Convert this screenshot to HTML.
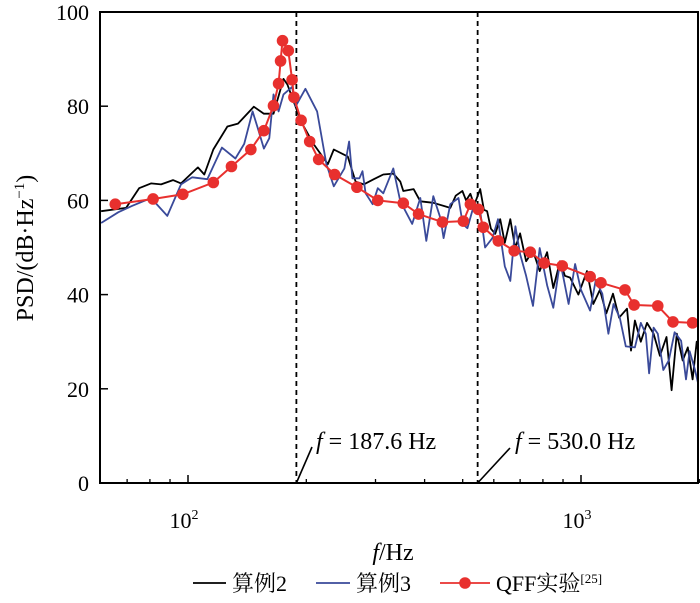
<!DOCTYPE html>
<html><head><meta charset="utf-8"><style>
html,body{margin:0;padding:0;background:#fff;width:700px;height:603px;overflow:hidden}
svg{display:block;font-family:"Liberation Serif","Noto Serif CJK SC",serif}
</style></head><body>
<svg id="chart" width="700" height="603" viewBox="0 0 700 603"></svg>
<script>
const yTicks=[0,20,40,60,80,100];
const xMajor=[100,1000];
const xMinor=[70,80,90,200,300,400,500,600,700,800,900,2000];
const markerFreqs=[187.6,530.0];
const case2F=[60.1,69.6,75.1,80.5,85.4,91.6,96,106,110,116,126,134,147,156,165,175,179,194,209,227,235,255,267,280,297,314,333,347,353,375,390,421,465,480,499,510,523,535,554,566,577,590,605,623,640,661,680,700,725,755,785,820,850,885,910,938,985,1036,1075,1117,1160,1206,1250,1309,1340,1371,1420,1472,1530,1588,1650,1700,1753,1815,1870,1923,1970,2005];
const case2V=[57.7,58.4,62.6,63.6,63.4,64.3,63.6,67,65.5,70.8,75.7,76.3,79.9,78.4,78.4,85.8,84.6,76.7,71.9,67.7,70.8,69.3,64,63.4,64.5,65.5,65.7,64,62,62.4,59.8,59.5,58.4,61,62,60,61.4,59,62.4,58,57.7,54,52.9,56,51,56,49.9,53,47.1,49.3,45,49,41.4,47.1,44,43.6,40,45,38,41,36,40.2,35.1,37,28.1,34.5,30,34,31.7,27,31,19.7,31.7,26,28.8,22,30,26];
const case3F=[60.1,66.5,71.9,80.5,88.6,96,102.5,112,122,132,139,146,151,156,161,165,170,175,184,188,199,213,225,235,250,257,262,273,278,283,295,304,314,333,347,372,390,404,421,439,447,465,488,500,514,530,554,570,595,615,640,661,681,700,725,755,785,820,850,885,902,930,966,1000,1055,1090,1133,1174,1210,1255,1300,1371,1420,1462,1490,1530,1568,1620,1673,1730,1798,1850,1889,1950,2005];
const case3V=[55.2,57.5,58.8,60.5,56.7,63.4,64.9,64.5,71.2,68.9,72,78.9,75,71,73.2,82.5,78.9,82.5,84.1,80,83.7,78.9,67.7,63,66.8,72.5,64.7,64.7,66.2,61.5,59.2,62.6,61.5,66.8,59.8,55,60.5,51.4,60.9,56.2,52,59.2,60.5,55,54.1,58,57.7,50,52,56,46,42.9,54.5,48.6,44,37.6,49.9,42,37.2,47,43.6,38,46.5,41,36.6,43,40.2,31.7,38,35.1,29,28.8,34,31.7,23.3,33,31.7,24,26,32,30.2,22,28,24,19.7];
const qffF=[65.3,81.5,97,116,129,144.5,156,165,170,172,174,180,184,186,194,204,215,236,269,304,353,386,444,502,523,548,564,616,676,743,806,896,1055,1124,1294,1365,1568,1714,1923];
const qffV=[59.2,60.3,61.3,63.8,67.2,70.8,74.8,80.1,84.8,89.6,93.9,91.8,85.6,81.9,77,72.5,68.7,65.5,62.8,60,59.4,57.1,55.4,55.6,59.2,58.1,54.3,51.4,49.3,49,46.7,46.1,43.8,42.5,41,37.8,37.6,34.2,34];

const NS='http://www.w3.org/2000/svg';
const svg=document.getElementById('chart');
const L=100,R=698,T=12,B=483;
const X=f=>188+(Math.log10(f)-2)*393;
const Y=v=>B-v*(B-T)/100;
function mk(tag,attrs,parent){const e=document.createElementNS(NS,tag);for(const k in attrs)e.setAttribute(k,attrs[k]);(parent||svg).appendChild(e);return e;}
const clip=mk('clipPath',{id:'pc'});mk('rect',{x:L,y:T,width:R-L,height:B-T},clip);

markerFreqs.forEach((f,i)=>{const l=mk('line',{x1:X(f)+(i?5:1),x2:X(f)+(i?5:1),y1:T,y2:B,stroke:'#000','stroke-width':1.8,'stroke-dasharray':'5,4'});

});

function path(F,V,color,w,name){let d='';F.forEach((f,i)=>{d+=(i?'L':'M')+X(f).toFixed(1)+','+Y(V[i]).toFixed(1);});
const p=mk('path',{d:d,fill:'none',stroke:color,'stroke-width':w,'stroke-linejoin':'round','clip-path':'url(#pc)'});

return p;}
path(case2F,case2V,'#000',1.8,'series-case2-line');
path(case3F,case3V,'#3a4a9a',1.8,'series-case3-line');
path(qffF,qffV,'#e8302e',2,'series-qff-line');
qffF.forEach((f,i)=>{const c=mk('circle',{cx:X(f),cy:Y(qffV[i]),r:5.8,fill:'#e8302e'});

});

const box=mk('rect',{x:L,y:T,width:R-L,height:B-T,fill:'none',stroke:'#000','stroke-width':2});



yTicks.forEach(v=>{mk('line',{x1:L,x2:L+8,y1:Y(v),y2:Y(v),stroke:'#000','stroke-width':1.5});
const t=mk('text',{x:89,y:Y(v)+8,'text-anchor':'end','font-size':22});t.textContent=v;

});
xMajor.forEach(f=>{mk('line',{x1:X(f),x2:X(f),y1:B,y2:B-8,stroke:'#000','stroke-width':1.5});
const t=mk('text',{x:X(f)-4,y:528,'text-anchor':'middle','font-size':22});
t.innerHTML='10<tspan dy="-9" font-size="14">'+Math.round(Math.log10(f))+'</tspan>';

});
xMinor.forEach(f=>{mk('line',{x1:X(f),x2:X(f),y1:B,y2:B-4,stroke:'#000','stroke-width':1.3});});

mk('line',{x1:X(187.6)+1,y1:B,x2:312,y2:447,stroke:'#000','stroke-width':1.6});
mk('line',{x1:X(530)+5,y1:B,x2:510,y2:448,stroke:'#000','stroke-width':1.6});
const a1=mk('text',{x:316,y:449,'font-size':24});a1.innerHTML='<tspan font-style="italic">f</tspan> = 187.6 Hz';


const a2=mk('text',{x:515,y:449,'font-size':24});a2.innerHTML='<tspan font-style="italic">f</tspan> = 530.0 Hz';



const xt=mk('text',{x:393,y:560,'text-anchor':'middle','font-size':24});xt.innerHTML='<tspan font-style="italic">f</tspan>/Hz';


const yt=mk('text',{x:0,y:0,'text-anchor':'middle','font-size':24,transform:'translate(33,248) rotate(-90)'});
yt.innerHTML='PSD/(dB·Hz<tspan dy="-9" font-size="15">−1</tspan><tspan dy="9">)</tspan>';



const lg=mk('g',{});


mk('line',{x1:193,x2:226,y1:583,y2:583,stroke:'#000','stroke-width':1.8},lg);
const l1=mk('text',{x:232,y:591,'font-size':22},lg);l1.textContent='算例2';


mk('line',{x1:316,x2:350,y1:583,y2:583,stroke:'#3a4a9a','stroke-width':1.8},lg);
const l2=mk('text',{x:356,y:591,'font-size':22},lg);l2.textContent='算例3';


mk('line',{x1:440,x2:490,y1:583,y2:583,stroke:'#e8302e','stroke-width':1.8},lg);
mk('circle',{cx:465,cy:583,r:5.8,fill:'#e8302e'},lg);
const l3=mk('text',{x:496,y:591,'font-size':22},lg);l3.innerHTML='QFF实验<tspan dy="-8" font-size="13">[25]</tspan>';


</script>
</body></html>
